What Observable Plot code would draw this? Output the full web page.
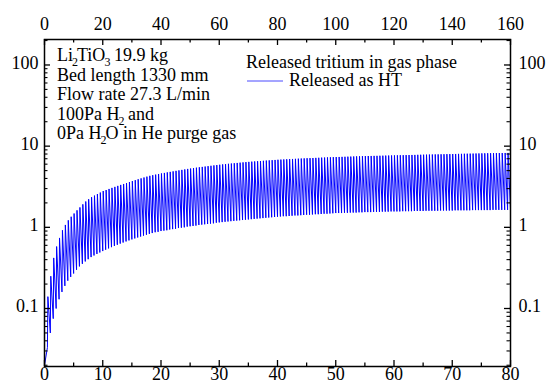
<!DOCTYPE html>
<html>
<head>
<meta charset="utf-8">
<script src="https://cdn.jsdelivr.net/npm/d3@7"></script>
<script src="https://cdn.jsdelivr.net/npm/@observablehq/plot@0.6"></script>
<style>
  html, body { margin: 0; padding: 0; background: white; }
  svg text, svg tspan { font-family: "Liberation Serif", "Tinos", "Times New Roman", "Nimbus Roman", "DejaVu Serif", serif !important; }
</style>
</head>
<body>
<div id="chart"></div>
<script>
// ---- data ----
const startValue = 0.02;            // released HT at t = 0
const cycleHours = 0.5;             // one cycle on the top axis = 0.5 on the bottom axis
// peak value of each cycle (cycles 1..159)
const peaks = [
  0.14,0.25,0.42,0.58,0.74,0.92,1.07,1.22,1.35,1.48,
  1.62,1.76,1.92,2.08,2.22,2.35,2.46,2.57,2.68,2.8,
  2.88,2.97,3.06,3.15,3.24,3.33,3.42,3.51,3.61,3.71,
  3.81,3.91,4.01,4.11,4.21,4.31,4.39,4.46,4.54,4.61,
  4.68,4.75,4.82,4.89,4.96,5.03,5.1,5.17,5.24,5.3,
  5.37,5.43,5.49,5.55,5.61,5.67,5.73,5.79,5.85,5.9,
  5.96,6.01,6.06,6.11,6.16,6.21,6.26,6.31,6.36,6.4,
  6.44,6.48,6.52,6.56,6.6,6.64,6.68,6.72,6.76,6.8,
  6.83,6.86,6.89,6.92,6.95,6.98,7.01,7.04,7.07,7.1,
  7.12,7.14,7.17,7.19,7.22,7.24,7.27,7.29,7.32,7.34,
  7.36,7.38,7.4,7.42,7.44,7.46,7.48,7.5,7.52,7.54,
  7.56,7.57,7.59,7.6,7.62,7.63,7.65,7.66,7.68,7.7,
  7.71,7.73,7.74,7.76,7.77,7.79,7.8,7.82,7.83,7.85,
  7.86,7.88,7.89,7.91,7.92,7.94,7.95,7.97,7.98,8.0,
  8.01,8.03,8.04,8.06,8.07,8.09,8.1,8.12,8.13,8.15,
  8.16,8.18,8.19,8.2,8.21,8.22,8.23,8.24,8.25
];
// trough value at the end of each cycle (cycles 1..160)
const troughs = [
  0.033,0.05,0.075,0.1,0.13,0.16,0.19,0.22,0.245,0.27,
  0.3,0.33,0.355,0.38,0.405,0.43,0.45,0.47,0.49,0.51,
  0.53,0.55,0.57,0.59,0.61,0.63,0.65,0.67,0.69,0.71,
  0.73,0.75,0.77,0.79,0.81,0.83,0.85,0.87,0.88,0.9,
  0.91,0.92,0.94,0.95,0.96,0.98,0.99,1.0,1.02,1.03,
  1.04,1.05,1.07,1.08,1.09,1.1,1.11,1.12,1.14,1.15,
  1.16,1.17,1.18,1.19,1.2,1.21,1.22,1.23,1.24,1.25,
  1.26,1.27,1.28,1.29,1.3,1.31,1.32,1.33,1.34,1.35,
  1.36,1.37,1.37,1.38,1.39,1.4,1.4,1.41,1.42,1.43,
  1.43,1.44,1.45,1.45,1.46,1.47,1.47,1.48,1.49,1.5,
  1.5,1.5,1.51,1.51,1.52,1.52,1.52,1.53,1.53,1.54,
  1.54,1.54,1.55,1.55,1.55,1.56,1.56,1.56,1.57,1.57,
  1.57,1.57,1.58,1.58,1.58,1.58,1.59,1.59,1.59,1.59,
  1.6,1.6,1.6,1.6,1.6,1.61,1.61,1.61,1.61,1.61,
  1.62,1.62,1.62,1.62,1.62,1.62,1.63,1.63,1.63,1.63,
  1.63,1.63,1.63,1.64,1.64,1.64,1.64,1.64,1.64,1.65
];
const riseDelay = 0.08;   // time from trough to peak within a cycle

// ---- axes ----
const xTicks = [0,10,20,30,40,50,60,70,80];
const xMinor = [5,15,25,35,45,55,65,75];
const topTicks = [0,20,40,60,80,100,120,140,160];
const yTicks = [0.1,1,10,100];
const yTickLabels = ["0.1","1","10","100"];
const yMinor = [];
for (const d of [0.01,0.1,1,10,100]) for (let m = 2; m <= 9; m++) {
  const v = +(d*m).toPrecision(3);
  if (v > 0.0193 && v < 206) yMinor.push(v);
}

// ---- build the line ----
const pts = [{t: 0, v: startValue}];
for (let k = 1; k <= troughs.length; k++) {
  pts.push({t: k*cycleHours, v: troughs[k-1]});
  if (k <= peaks.length) pts.push({t: k*cycleHours + riseDelay, v: peaks[k-1]});
}

const W = 548, H = 385;
const mL = 44, mR = 38, mT = 39, mB = 19;
const pw = W - mL - mR, ph = H - mT - mB;
const FONT = "'Liberation Serif', 'Tinos', 'Times New Roman', 'Nimbus Roman', 'DejaVu Serif', serif";

const chart = Plot.plot({
  width: W, height: H,
  marginLeft: mL, marginRight: mR, marginTop: mT, marginBottom: mB,
  x: {domain: [0, 80], axis: null},
  y: {type: "log", domain: [0.0193, 206], axis: null},
  style: {fontFamily: FONT, fontSize: "18px", background: "white", color: "black"},
  marks: [
    Plot.line(pts, {x: "t", y: "v", stroke: "#0000ff", strokeWidth: 1}),
    Plot.frame({stroke: "black", strokeWidth: 1.5}),
    // bottom ticks
    Plot.ruleX(xTicks, {x: d => d, insetTop: ph - 6, stroke: "black", strokeWidth: 1.3}),
    Plot.ruleX(xMinor, {x: d => d, insetTop: ph - 3.5, stroke: "black", strokeWidth: 1.3}),
    // top ticks
    Plot.ruleX(xTicks, {x: d => d, insetBottom: ph - 6, stroke: "black", strokeWidth: 1.3}),
    Plot.ruleX(xMinor, {x: d => d, insetBottom: ph - 3.5, stroke: "black", strokeWidth: 1.3}),
    // left ticks
    Plot.ruleY(yTicks, {y: d => d, insetRight: pw - 6, stroke: "black", strokeWidth: 1.3}),
    Plot.ruleY(yMinor, {y: d => d, insetRight: pw - 3.5, stroke: "black", strokeWidth: 1.1}),
    // right ticks
    Plot.ruleY(yTicks, {y: d => d, insetLeft: pw - 6, stroke: "black", strokeWidth: 1.3}),
    Plot.ruleY(yMinor, {y: d => d, insetLeft: pw - 3.5, stroke: "black", strokeWidth: 1.1}),
    // tick labels
    Plot.text(xTicks, {x: d => d, text: d => String(d), frameAnchor: "bottom", lineAnchor: "top", dy: 1, fontSize: 18, fill: "black"}),
    Plot.text(topTicks, {x: d => d*cycleHours, text: d => String(d), frameAnchor: "top", lineAnchor: "bottom", dy: -10, fontSize: 18, fill: "black"}),
    Plot.text(yTicks, {y: d => d, text: (d, i) => yTickLabels[i], frameAnchor: "left", textAnchor: "end", dx: -6, dy: -2, fontSize: 18, fill: "black"}),
    Plot.text(yTicks, {y: d => d, text: (d, i) => yTickLabels[i], frameAnchor: "right", textAnchor: "start", dx: 8, dy: -2, fontSize: 18, fill: "black"})
  ]
});
document.getElementById("chart").appendChild(chart);

// ---- annotations and legend (text with subscripts) ----
const svg = d3.select(chart);
function addText(x, y, parts) {
  const t = svg.append("text").attr("x", x).attr("y", y)
    .attr("text-anchor", "start")
    .style("font-family", FONT).style("font-size", "18px").attr("fill", "black");
  let shift = 0;
  for (const [s, sub] of parts) {
    if (sub) {
      t.append("tspan").style("font-size", "12px").attr("dy", 5).attr("dx", -1).text(s);
      shift = -5;
    } else {
      const sp = t.append("tspan").text(s);
      if (shift) { sp.attr("dy", shift).attr("dx", -1); shift = 0; }
    }
  }
  return t;
}
addText(57, 61, [["Li"], ["2", true], ["TiO"], ["3", true], [" 19.9 kg"]]);
addText(57, 80.5, [["Bed length 1330 mm"]]);
addText(57, 100, [["Flow rate 27.3 L/min"]]);
addText(57, 119.5, [["100Pa H"], ["2", true], [" and"]]);
addText(57, 139, [["0Pa H"], ["2", true], ["O in He purge gas"]]);

addText(246, 68, [["Released tritium in gas phase"]]);
addText(289, 86, [["Released as HT"]]);
svg.append("line").attr("x1", 247).attr("x2", 283).attr("y1", 81).attr("y2", 81)
  .attr("stroke", "#4a4aff").attr("stroke-width", 1);
</script>
</body>
</html>
